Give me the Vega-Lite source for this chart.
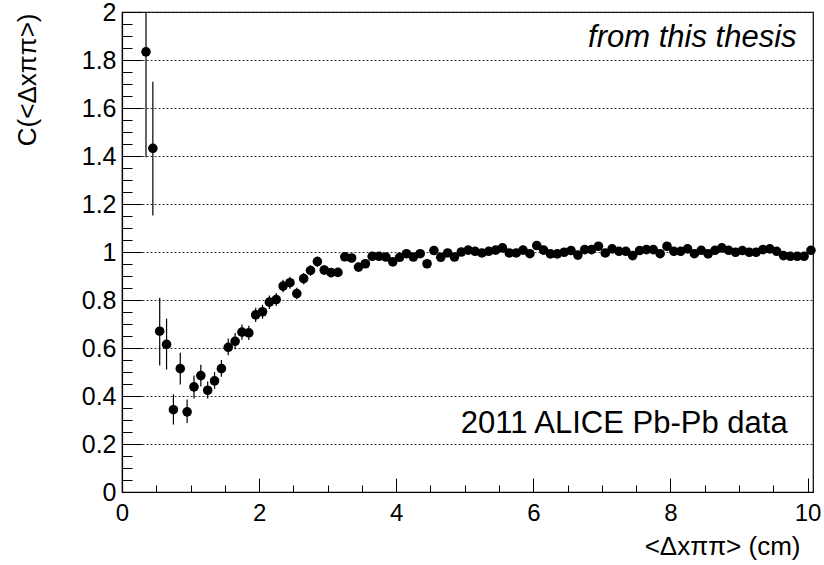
{
  "$schema": "https://vega.github.io/schema/vega-lite/v6.json",
  "width": 691,
  "height": 480,
  "autosize": {"type": "none"},
  "padding": {"left": 122, "top": 12, "right": 11, "bottom": 73},
  "background": "white",
  "config": {
    "view": {"stroke": "black", "strokeWidth": 1.2},
    "font": "Liberation Sans",
    "axis": {
      "domainColor": "black",
      "tickColor": "black",
      "labelColor": "black",
      "titleColor": "black",
      "labelFont": "Liberation Sans",
      "titleFont": "Liberation Sans",
      "titleFontWeight": "normal",
      "labelFlush": false,
      "labelOverlap": false
    }
  },
  "data": {
    "values": [
      {"x": 0.35, "y": 1.834, "lo": 1.395, "hi": 2.27},
      {"x": 0.45, "y": 1.432, "lo": 1.152, "hi": 1.709},
      {"x": 0.55, "y": 0.670, "lo": 0.527, "hi": 0.809},
      {"x": 0.65, "y": 0.615, "lo": 0.510, "hi": 0.722},
      {"x": 0.75, "y": 0.343, "lo": 0.281, "hi": 0.407},
      {"x": 0.85, "y": 0.514, "lo": 0.448, "hi": 0.580},
      {"x": 0.95, "y": 0.334, "lo": 0.288, "hi": 0.385},
      {"x": 1.05, "y": 0.438, "lo": 0.390, "hi": 0.485},
      {"x": 1.15, "y": 0.485, "lo": 0.440, "hi": 0.530},
      {"x": 1.25, "y": 0.424, "lo": 0.390, "hi": 0.460},
      {"x": 1.35, "y": 0.463, "lo": 0.430, "hi": 0.500},
      {"x": 1.45, "y": 0.514, "lo": 0.480, "hi": 0.550},
      {"x": 1.55, "y": 0.603, "lo": 0.570, "hi": 0.640},
      {"x": 1.65, "y": 0.628, "lo": 0.595, "hi": 0.662},
      {"x": 1.75, "y": 0.666, "lo": 0.634, "hi": 0.698},
      {"x": 1.85, "y": 0.663, "lo": 0.633, "hi": 0.693},
      {"x": 1.95, "y": 0.738, "lo": 0.708, "hi": 0.768},
      {"x": 2.05, "y": 0.751, "lo": 0.722, "hi": 0.780},
      {"x": 2.15, "y": 0.791, "lo": 0.763, "hi": 0.819},
      {"x": 2.25, "y": 0.802, "lo": 0.775, "hi": 0.829},
      {"x": 2.35, "y": 0.858, "lo": 0.832, "hi": 0.884},
      {"x": 2.45, "y": 0.872, "lo": 0.847, "hi": 0.897},
      {"x": 2.55, "y": 0.827, "lo": 0.803, "hi": 0.851},
      {"x": 2.65, "y": 0.889, "lo": 0.866, "hi": 0.912},
      {"x": 2.75, "y": 0.923, "lo": 0.901, "hi": 0.945},
      {"x": 2.85, "y": 0.960, "lo": 0.939, "hi": 0.981},
      {"x": 2.95, "y": 0.925, "lo": 0.905, "hi": 0.945},
      {"x": 3.05, "y": 0.914, "lo": 0.895, "hi": 0.933},
      {"x": 3.15, "y": 0.915, "lo": 0.897, "hi": 0.933},
      {"x": 3.25, "y": 0.980, "lo": 0.968, "hi": 0.992},
      {"x": 3.35, "y": 0.975, "lo": 0.963, "hi": 0.987},
      {"x": 3.45, "y": 0.937, "lo": 0.925, "hi": 0.949},
      {"x": 3.55, "y": 0.951, "lo": 0.939, "hi": 0.963},
      {"x": 3.65, "y": 0.982, "lo": 0.970, "hi": 0.994},
      {"x": 3.75, "y": 0.982, "lo": 0.970, "hi": 0.994},
      {"x": 3.85, "y": 0.979, "lo": 0.967, "hi": 0.991},
      {"x": 3.95, "y": 0.959, "lo": 0.947, "hi": 0.971},
      {"x": 4.05, "y": 0.978, "lo": 0.966, "hi": 0.990},
      {"x": 4.15, "y": 0.993, "lo": 0.981, "hi": 1.005},
      {"x": 4.25, "y": 0.979, "lo": 0.967, "hi": 0.991},
      {"x": 4.35, "y": 0.993, "lo": 0.981, "hi": 1.005},
      {"x": 4.45, "y": 0.951, "lo": 0.939, "hi": 0.963},
      {"x": 4.55, "y": 1.006, "lo": 0.994, "hi": 1.018},
      {"x": 4.65, "y": 0.978, "lo": 0.966, "hi": 0.990},
      {"x": 4.75, "y": 0.996, "lo": 0.984, "hi": 1.008},
      {"x": 4.85, "y": 0.979, "lo": 0.967, "hi": 0.991},
      {"x": 4.95, "y": 1.000, "lo": 0.988, "hi": 1.012},
      {"x": 5.05, "y": 1.008, "lo": 0.996, "hi": 1.020},
      {"x": 5.15, "y": 1.003, "lo": 0.991, "hi": 1.015},
      {"x": 5.25, "y": 0.996, "lo": 0.984, "hi": 1.008},
      {"x": 5.35, "y": 1.003, "lo": 0.991, "hi": 1.015},
      {"x": 5.45, "y": 1.008, "lo": 0.996, "hi": 1.020},
      {"x": 5.55, "y": 1.017, "lo": 1.005, "hi": 1.029},
      {"x": 5.65, "y": 0.996, "lo": 0.984, "hi": 1.008},
      {"x": 5.75, "y": 0.996, "lo": 0.984, "hi": 1.008},
      {"x": 5.85, "y": 1.008, "lo": 0.996, "hi": 1.020},
      {"x": 5.95, "y": 0.993, "lo": 0.981, "hi": 1.005},
      {"x": 6.05, "y": 1.027, "lo": 1.015, "hi": 1.039},
      {"x": 6.15, "y": 1.008, "lo": 0.996, "hi": 1.020},
      {"x": 6.25, "y": 0.992, "lo": 0.980, "hi": 1.004},
      {"x": 6.35, "y": 0.992, "lo": 0.980, "hi": 1.004},
      {"x": 6.45, "y": 0.999, "lo": 0.987, "hi": 1.011},
      {"x": 6.55, "y": 1.006, "lo": 0.994, "hi": 1.018},
      {"x": 6.65, "y": 0.987, "lo": 0.975, "hi": 0.999},
      {"x": 6.75, "y": 1.010, "lo": 0.998, "hi": 1.022},
      {"x": 6.85, "y": 1.010, "lo": 0.998, "hi": 1.022},
      {"x": 6.95, "y": 1.024, "lo": 1.012, "hi": 1.036},
      {"x": 7.05, "y": 0.996, "lo": 0.984, "hi": 1.008},
      {"x": 7.15, "y": 1.013, "lo": 1.001, "hi": 1.025},
      {"x": 7.25, "y": 1.003, "lo": 0.991, "hi": 1.015},
      {"x": 7.35, "y": 1.003, "lo": 0.991, "hi": 1.015},
      {"x": 7.45, "y": 0.985, "lo": 0.973, "hi": 0.997},
      {"x": 7.55, "y": 1.006, "lo": 0.994, "hi": 1.018},
      {"x": 7.65, "y": 1.010, "lo": 0.998, "hi": 1.022},
      {"x": 7.75, "y": 1.010, "lo": 0.998, "hi": 1.022},
      {"x": 7.85, "y": 0.993, "lo": 0.981, "hi": 1.005},
      {"x": 7.95, "y": 1.024, "lo": 1.012, "hi": 1.036},
      {"x": 8.05, "y": 1.003, "lo": 0.991, "hi": 1.015},
      {"x": 8.15, "y": 1.003, "lo": 0.991, "hi": 1.015},
      {"x": 8.25, "y": 1.013, "lo": 1.001, "hi": 1.025},
      {"x": 8.35, "y": 0.993, "lo": 0.981, "hi": 1.005},
      {"x": 8.45, "y": 1.007, "lo": 0.995, "hi": 1.019},
      {"x": 8.55, "y": 0.992, "lo": 0.980, "hi": 1.004},
      {"x": 8.65, "y": 1.007, "lo": 0.995, "hi": 1.019},
      {"x": 8.75, "y": 1.017, "lo": 1.005, "hi": 1.029},
      {"x": 8.85, "y": 1.007, "lo": 0.995, "hi": 1.019},
      {"x": 8.95, "y": 0.999, "lo": 0.987, "hi": 1.011},
      {"x": 9.05, "y": 1.006, "lo": 0.994, "hi": 1.018},
      {"x": 9.15, "y": 0.999, "lo": 0.987, "hi": 1.011},
      {"x": 9.25, "y": 0.999, "lo": 0.987, "hi": 1.011},
      {"x": 9.35, "y": 1.010, "lo": 0.998, "hi": 1.022},
      {"x": 9.45, "y": 1.013, "lo": 1.001, "hi": 1.025},
      {"x": 9.55, "y": 1.003, "lo": 0.991, "hi": 1.015},
      {"x": 9.65, "y": 0.985, "lo": 0.973, "hi": 0.997},
      {"x": 9.75, "y": 0.982, "lo": 0.970, "hi": 0.994},
      {"x": 9.85, "y": 0.982, "lo": 0.970, "hi": 0.994},
      {"x": 9.95, "y": 0.982, "lo": 0.970, "hi": 0.994},
      {"x": 10.05, "y": 1.007, "lo": 0.995, "hi": 1.019}
    ]
  },
  "resolve": {"axis": {"x": "independent", "y": "independent"}},
  "layer": [
    {
      "mark": {"type": "point", "opacity": 0},
      "encoding": {
        "x": {
          "field": "x", "type": "quantitative",
          "scale": {"domain": [0, 10.08], "nice": false, "zero": false},
          "axis": {
            "orient": "bottom", "title": null, "labels": false, "domain": false, "grid": false,
            "values": [0.5, 1, 1.5, 2.5, 3, 3.5, 4.5, 5, 5.5, 6.5, 7, 7.5, 8.5, 9, 9.5],
            "tickSize": -7, "tickWidth": 1
          }
        },
        "y": {
          "field": "y", "type": "quantitative",
          "scale": {"domain": [0, 2], "nice": false, "zero": false},
          "axis": {
            "orient": "left", "title": null, "labels": false, "domain": false, "grid": false,
            "values": [0.05, 0.1, 0.15, 0.25, 0.3, 0.35, 0.45, 0.5, 0.55, 0.65, 0.7, 0.75, 0.85, 0.9, 0.95, 1.05, 1.1, 1.15, 1.25, 1.3, 1.35, 1.45, 1.5, 1.55, 1.65, 1.7, 1.75, 1.85, 1.9, 1.95],
            "tickSize": -10, "tickWidth": 1
          }
        }
      }
    },
    {
      "mark": {"type": "rule", "color": "black", "strokeWidth": 1.2, "clip": true},
      "encoding": {
        "x": {
          "field": "x", "type": "quantitative",
          "axis": {
            "orient": "bottom", "values": [0, 2, 4, 6, 8, 10], "format": "d",
            "tickSize": -14, "tickWidth": 1, "domainWidth": 1.2,
            "labelFontSize": 24, "labelPadding": 23, "grid": false,
            "title": "<Δxππ> (cm)", "titleFontSize": 26,
            "titleX": 678, "titleY": 62, "titleAlign": "right", "titleBaseline": "alphabetic", "titleAnchor": null
          }
        },
        "y": {
          "field": "lo", "type": "quantitative",
          "axis": {
            "orient": "left", "values": [0, 0.2, 0.4, 0.6, 0.8, 1, 1.2, 1.4, 1.6, 1.8, 2], "format": "~g",
            "tickSize": -20, "tickWidth": 1, "domainWidth": 1.2,
            "labelFontSize": 25, "labelPadding": 26,
            "grid": true, "gridColor": "#333", "gridDash": [2, 2], "gridWidth": 1,
            "title": "C(<Δxππ>)", "titleFontSize": 26,
            "titleX": -95, "titleY": 1, "titleAngle": -90, "titleAlign": "right", "titleBaseline": "middle", "titleAnchor": null
          }
        },
        "y2": {"field": "hi"}
      }
    },
    {
      "mark": {"type": "circle", "color": "black", "opacity": 1, "size": 92},
      "encoding": {
        "x": {"field": "x", "type": "quantitative", "axis": null},
        "y": {"field": "y", "type": "quantitative", "axis": null}
      }
    },
    {
      "data": {"values": [{"label": "from this thesis"}]},
      "mark": {"type": "text", "font": "Liberation Sans", "fontStyle": "italic", "fontSize": 31, "align": "right", "baseline": "alphabetic", "color": "black"},
      "encoding": {
        "text": {"field": "label"},
        "x": {"datum": 9.84, "type": "quantitative", "axis": null},
        "y": {"datum": 1.855, "type": "quantitative", "axis": null}
      }
    },
    {
      "data": {"values": [{"label": "2011 ALICE Pb-Pb data"}]},
      "mark": {"type": "text", "font": "Liberation Sans", "fontSize": 31, "align": "right", "baseline": "alphabetic", "color": "black"},
      "encoding": {
        "text": {"field": "label"},
        "x": {"datum": 9.71, "type": "quantitative", "axis": null},
        "y": {"datum": 0.246, "type": "quantitative", "axis": null}
      }
    }
  ]
}
